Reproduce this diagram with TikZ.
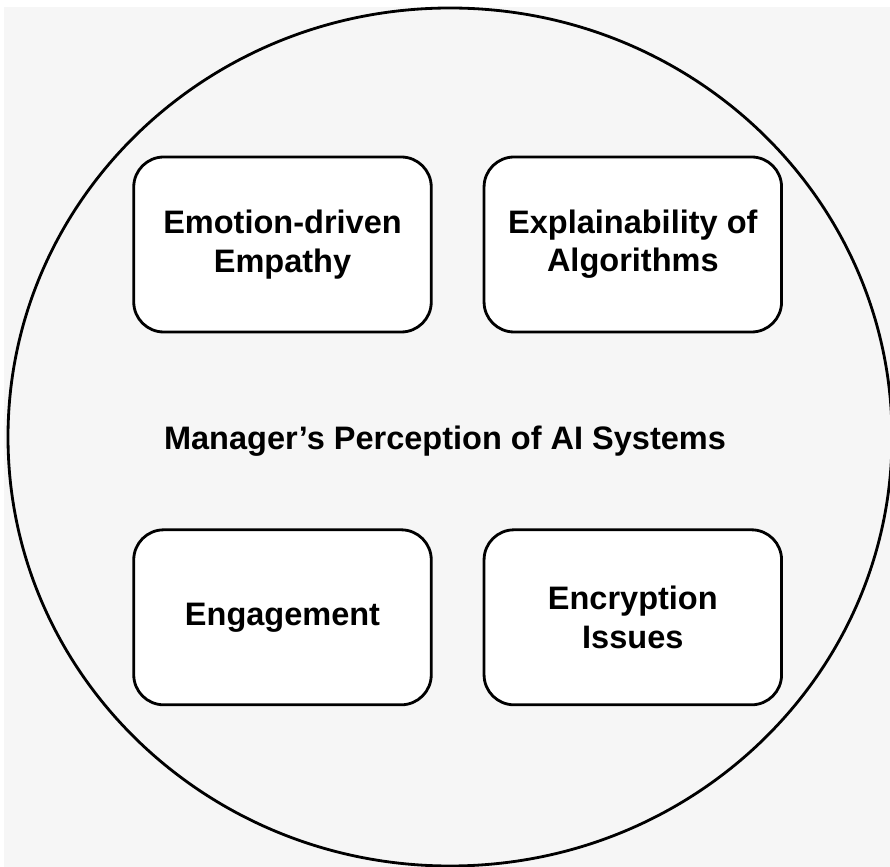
\documentclass[tikz,border=0pt]{standalone}
\usepackage{fontspec}
\setmainfont{Liberation Sans}
\usepackage{xcolor}
\definecolor{panelgray}{RGB}{246,246,246}
\usepackage{tikz}
\usetikzlibrary{shapes.geometric, positioning}
\tikzset{
  factor/.style={
    rectangle, rounded corners=0.6cm, draw=black, fill=white,
    line width=1.6pt, minimum width=5.95cm, minimum height=3.5cm,
    align=center, font=\fontsize{18.5}{21.8}\selectfont\bfseries
  },
  title/.style={
    font=\fontsize{18.5}{22}\selectfont\bfseries
  },
  rim/.style={line width=1.6pt, draw=black},
}

\begin{document}
\begin{tikzpicture}
  \useasboundingbox (0,0) rectangle (17.8,17.34);
  % panel and outer ring
  \fill[panelgray] (0.08,0) rectangle (17.8,17.2);
  \begin{scope}
    \clip (0.08,0) rectangle (17.8,17.2);
    \draw[rim] (9.0,8.6) ellipse [x radius=8.84cm, y radius=8.58cm];
  \end{scope}

  \node (percep)  [title]  at (8.9,8.52)            {Manager’s Perception of AI Systems};
  \node (empathy) [factor] at (5.65,12.45)          {Emotion-driven\\Empathy};
  \node (explain) [factor, right=1.0cm of empathy]  {Explainability of\\Algorithms};
  \node (engage)  [factor, below=3.9cm of empathy]  {Engagement};
  \node (encrypt) [factor, below=3.9cm of explain]  {Encryption\\Issues};
\end{tikzpicture}
\end{document}
